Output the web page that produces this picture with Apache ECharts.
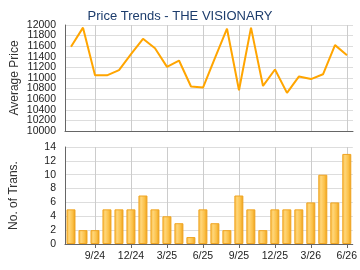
<!DOCTYPE html>
<html>
<head>
<meta charset="utf-8">
<script src="https://cdn.jsdelivr.net/npm/echarts@6/dist/echarts.min.js"></script>
<style>html,body{margin:0;padding:0;background:#fff}#c{width:360px;height:270px}</style>
</head>
<body>
<div id="c"></div>
<script>
var months = ['7/24','8/24','9/24','10/24','11/24','12/24','1/25','2/25','3/25','4/25','5/25','6/25','7/25','8/25','9/25','10/25','11/25','12/25','1/26','2/26','3/26','4/26','5/26','6/26'];
var avgPrice = [11590,11950,11050,11050,11150,11450,11740,11560,11210,11330,10840,10820,11380,11930,10770,11950,10850,11160,10720,11030,10980,11070,11620,11430];
var transactions = [5,2,2,5,5,5,7,5,4,3,1,5,3,2,7,5,2,5,5,5,6,10,6,13];
var priceTicks = {min:10000, max:12000, step:200};
var transTicks = {min:0, max:14, step:2};

var font = 'Liberation Sans, Arial, sans-serif';
var labelFont = {fontFamily:font, fontSize:10.5, color:'#222'};
function showIdx(i){ return i % 3 === 2; }
function plain(v){ return String(v); }

// plot geometry of the price panel
var pTop = 25, pH = 106;
var frac = priceTicks.step / (priceTicks.max - priceTicks.min);

var chart = echarts.init(document.getElementById('c'), null, {renderer:'canvas'});
chart.setOption({
  animation:false,
  title:{text:'Price Trends - THE VISIONARY', left:'center', top:5,
    textStyle:{fontFamily:font, fontSize:13, fontWeight:'normal', color:'#1c3c6c'}},
  grid:[
    {left:65, right:7, top:pTop, height:pH},
    {left:65, right:7, top:147, height:97},
    // helper grid carrying the odd price labels (10200 ... 11800)
    {left:65, right:7, top:pTop + pH*frac, height:pH*(1-2*frac)}
  ],
  xAxis:[
    {type:'category', gridIndex:0, data:months, boundaryGap:true, position:'bottom',
      axisLine:{show:true, lineStyle:{color:'#666', width:1}},
      axisTick:{show:false}, axisLabel:{show:false},
      splitLine:{show:true, interval:showIdx, alignWithLabel:true, lineStyle:{color:'#ccc', width:1}}},
    {type:'category', gridIndex:1, data:months, boundaryGap:true, position:'bottom',
      axisLine:{show:true, lineStyle:{color:'#666', width:1}},
      axisTick:{show:true, interval:showIdx, alignWithLabel:true, length:4, lineStyle:{color:'#666'}},
      axisLabel:Object.assign({interval:showIdx, margin:7}, labelFont),
      splitLine:{show:true, interval:showIdx, alignWithLabel:true, lineStyle:{color:'#ccc', width:1}}},
    {type:'category', gridIndex:2, data:months, show:false}
  ],
  yAxis:[
    {type:'value', gridIndex:0, position:'left', min:priceTicks.min, max:priceTicks.max, interval:priceTicks.step,
      name:'Average Price', nameLocation:'middle', nameGap:44, nameRotate:90,
      nameTextStyle:{fontFamily:font, fontSize:12, color:'#333'},
      axisLine:{show:true, lineStyle:{color:'#666'}}, axisTick:{show:false},
      axisLabel:{show:false},
      splitLine:{show:true, lineStyle:{color:'#ddd', width:1}}},
    {type:'value', gridIndex:1, position:'left', min:transTicks.min, max:transTicks.max, interval:transTicks.step,
      name:'No. of Trans.', nameLocation:'middle', nameGap:45, nameRotate:90,
      nameTextStyle:{fontFamily:font, fontSize:12, color:'#333'},
      axisLine:{show:true, lineStyle:{color:'#666'}}, axisTick:{show:false},
      axisLabel:Object.assign({margin:9, formatter:plain, showMinLabel:true, showMaxLabel:true}, labelFont),
      splitLine:{show:true, lineStyle:{color:'#ddd', width:1}}},
    // even price labels 10000, 10400 ... 12000
    {type:'value', gridIndex:0, position:'left', offset:0, min:priceTicks.min, max:priceTicks.max, interval:priceTicks.step*2,
      axisLine:{show:false}, axisTick:{show:false}, splitLine:{show:false},
      axisLabel:Object.assign({margin:9, formatter:plain, showMinLabel:true, showMaxLabel:true}, labelFont)},
    // odd price labels 10200, 10600 ... 11800
    {type:'value', gridIndex:2, position:'left', min:priceTicks.min + priceTicks.step, max:priceTicks.max - priceTicks.step, interval:priceTicks.step*2,
      axisLine:{show:false}, axisTick:{show:false}, splitLine:{show:false},
      axisLabel:Object.assign({margin:9, formatter:plain, showMinLabel:true, showMaxLabel:true}, labelFont)}
  ],
  series:[
    {type:'line', xAxisIndex:0, yAxisIndex:0, data:avgPrice, showSymbol:false, symbol:'none',
      lineStyle:{color:'#FFA500', width:2}, itemStyle:{color:'#FFA500'}},
    {type:'bar', xAxisIndex:1, yAxisIndex:1, data:transactions, barWidth:9,
      itemStyle:{
        color:new echarts.graphic.LinearGradient(0,0,1,0,[
          {offset:0, color:'#f7b539'},
          {offset:0.3, color:'#ffd679'},
          {offset:0.7, color:'#fbbf45'},
          {offset:1, color:'#e89a12'}
        ]),
        borderColor:'#f0a522', borderWidth:1
      }}
  ]
});
</script>
</body>
</html>
